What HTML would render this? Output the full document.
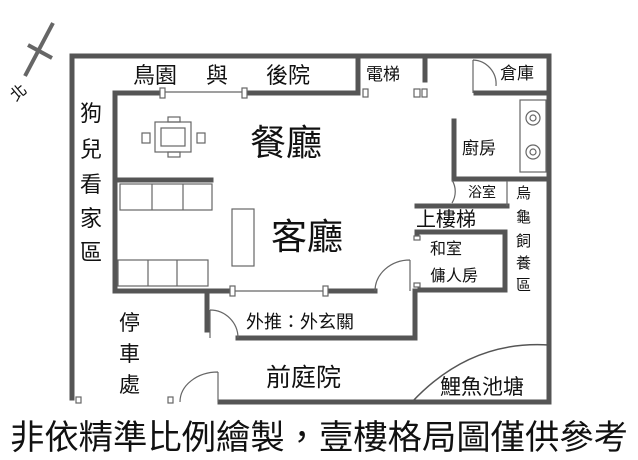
<!DOCTYPE html><html><head><meta charset="utf-8"><style>body{margin:0;background:#fff}svg{display:block}text{font-family:"Liberation Sans","Noto Sans CJK TC",sans-serif;fill:#111}</style></head><body>
<svg width="638" height="460" viewBox="0 0 638 460" xmlns="http://www.w3.org/2000/svg">
<g stroke="#555" stroke-width="5" fill="none" stroke-linecap="square">
<path d="M72 398V56H549V402H220"/>
<path d="M115 290V93H162M245 93H358V56M425 56V80M476 93H549"/>
<path d="M115 180H211"/>
<path d="M454 121V179H549"/>
<path d="M417 206H507M417 232H505V290H420M417 232V236"/>
<path d="M115 291H232M325 291H375"/>
<path d="M207 291V330M238 338H415V291"/>
</g>
<g stroke="#666" stroke-width="1.2" fill="none">
<path d="M162 92H245M232 291H325"/>
<rect x="160" y="88" width="5" height="10" fill="#fff"/><rect x="242" y="88" width="5" height="10" fill="#fff"/>
<rect x="230" y="286" width="5" height="10" fill="#fff"/><rect x="323" y="286" width="5" height="10" fill="#fff"/>
<rect x="363" y="89" width="5" height="8" fill="#fff"/><rect x="414" y="89" width="6" height="8" fill="#fff"/><rect x="422" y="89" width="5" height="8" fill="#fff"/>
<path d="M473 60V93M473 60A24 24 0 0 1 496 86"/>
<path d="M452 180A22 22 0 0 1 452 203M507 181V206"/>
<path d="M410 260V291M410 260A35 31 0 0 0 375 291"/>
<path d="M210 310V338M210 310A28 28 0 0 1 238 338"/>
<path d="M218 372V402M218 372A38 30 0 0 0 180 402"/>
<path d="M412 402Q470 340 549 345" stroke="#555" stroke-width="1.5"/>
<rect x="76" y="397" width="5" height="6" fill="#fff"/><rect x="168" y="397" width="5" height="6" fill="#fff"/>
<rect x="414" y="236" width="6" height="4" fill="#fff"/><rect x="414" y="283" width="6" height="4" fill="#fff"/>
<rect x="520" y="100" width="26" height="72"/><circle cx="533" cy="118" r="7"/><circle cx="533" cy="118" r="3"/><circle cx="533" cy="152" r="7"/><circle cx="533" cy="152" r="3"/>
<rect x="155" y="122" width="36" height="30"/><rect x="161" y="128" width="24" height="18"/><rect x="142" y="133" width="8" height="10"/><rect x="197" y="133" width="8" height="10"/><rect x="168" y="117" width="12" height="5"/><rect x="168" y="152" width="12" height="5"/>
<rect x="120" y="184" width="92" height="26"/><path d="M152 184V210M183 184V210"/>
<rect x="118" y="260" width="90" height="26"/><path d="M148 260V286M177 260V286"/>
<rect x="232" y="209" width="22" height="57"/>
</g>
<g stroke="#666" stroke-width="4"><path d="M53 23L25 76M28 45L52 58"/></g>
<text x="10" y="98" font-size="16" transform="rotate(-40 18 92)">北</text>
<text x="133" y="83" font-size="22">鳥園</text><text x="206" y="83" font-size="22">與</text><text x="266" y="83" font-size="22">後院</text>
<text x="366" y="80" font-size="17">電梯</text><text x="500" y="79" font-size="17">倉庫</text>
<text x="250" y="155" font-size="36">餐廳</text><text x="271" y="249" font-size="36">客廳</text>
<text x="462" y="154" font-size="17">廚房</text><text x="468" y="197" font-size="14">浴室</text>
<text x="416" y="226" font-size="20">上樓梯</text>
<text x="430" y="254" font-size="16">和室</text><text x="430" y="281" font-size="16">傭人房</text>
<g font-size="15"><text x="516" y="198">烏</text><text x="516" y="222">龜</text><text x="516" y="246">飼</text><text x="516" y="268">養</text><text x="516" y="290">區</text></g>
<g font-size="22"><text x="80" y="121">狗</text><text x="80" y="157">兒</text><text x="80" y="192">看</text><text x="80" y="226">家</text><text x="80" y="260">區</text></g>
<g font-size="21"><text x="119" y="330">停</text><text x="119" y="361">車</text><text x="119" y="392">處</text></g>
<text x="246" y="328" font-size="18">外推：外玄關</text>
<text x="266" y="386" font-size="25">前庭院</text>
<text x="440" y="394" font-size="21">鯉魚池塘</text>
<text x="10" y="449" font-size="34" textLength="618" lengthAdjust="spacingAndGlyphs">非依精準比例繪製，壹樓格局圖僅供參考</text>
</svg></body></html>
